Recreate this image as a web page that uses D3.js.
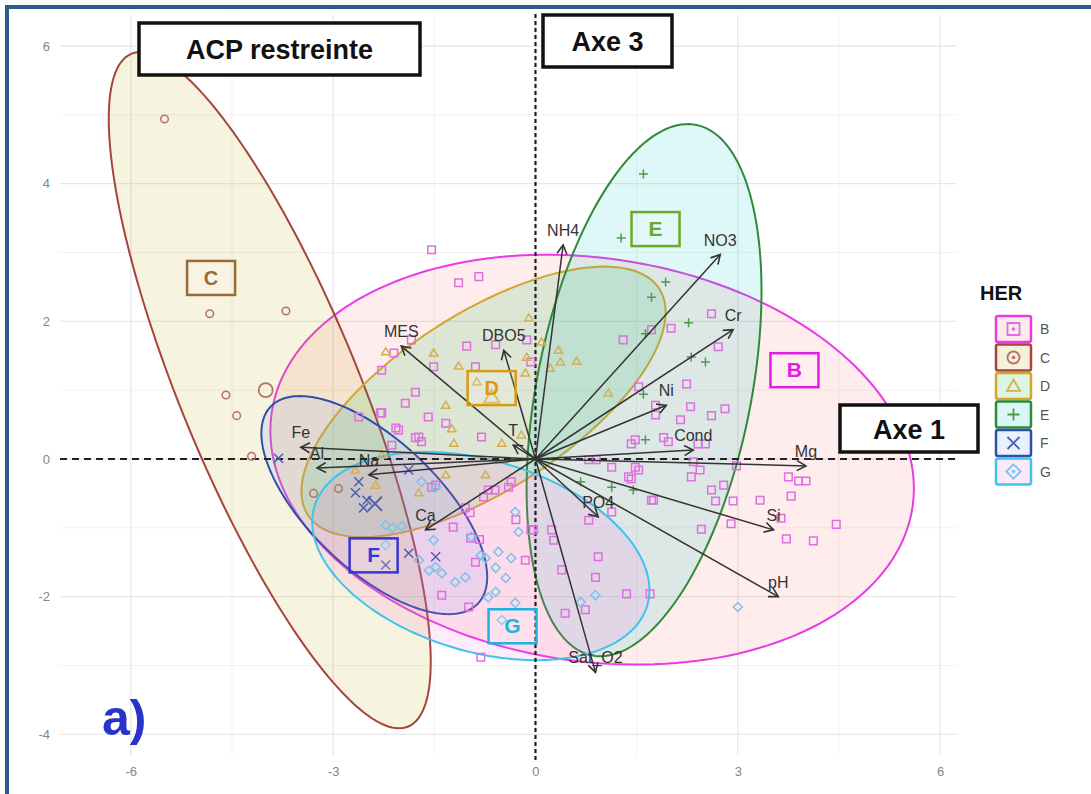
<!DOCTYPE html>
<html>
<head>
<meta charset="utf-8">
<script src="https://cdn.jsdelivr.net/npm/d3@7"></script>
<style>
  body { margin: 0; background: #fff; }
  text { font-family: "Liberation Sans", Arial, sans-serif; }
</style>
</head>
<body>
<div id="chart"></div>
<script>
// groups (HER)
const groups = ["B", "C", "D", "E", "F", "G"];

// individuals, [axe1, axe3]
const pointsB = [
  [-1.54, 3.04], [-0.84, 2.65], [-1.14, 2.56], [-2.10, 1.54], [-1.02, 1.64], [-0.59, 1.66],
  [-0.13, 1.73], [-0.07, 1.41], [-1.51, 1.34], [-0.89, 1.34], [-2.28, 1.29], [-1.78, 0.97],
  [-1.93, 0.81], [-2.28, 0.67], [-1.59, 0.61], [-1.33, 0.52], [-2.03, 0.42], [-1.78, 0.31],
  [-1.69, 0.25], [1.30, 1.73], [1.72, 1.88], [2.01, 1.90], [1.53, 1.05], [1.78, 0.78],
  [1.78, 0.64], [1.90, 0.31], [1.48, 0.28], [0.79, -0.01], [0.90, -0.01], [1.13, -0.12],
  [1.48, -0.12], [2.61, 2.11], [2.71, 1.63], [2.24, 1.09], [2.30, 0.76], [2.15, 0.57],
  [2.61, 0.63], [2.81, 0.73], [1.42, 0.22], [1.97, 0.25], [2.41, 0.22], [2.52, 0.22],
  [2.34, -0.04], [2.44, -0.16], [2.98, -0.10], [1.53, -0.16], [1.42, -0.29], [2.31, -0.26],
  [2.79, -0.38], [2.61, -0.45], [1.72, -0.60], [2.67, -0.61], [2.93, -0.61], [3.33, -0.60],
  [3.79, -0.54], [3.75, -0.26], [3.90, -0.32], [4.01, -0.32], [2.46, -1.02], [2.90, -0.94],
  [3.64, -0.86], [3.72, -1.16], [4.12, -1.19], [4.46, -0.95], [1.35, -1.96], [1.70, -1.96],
  [-1.48, -0.38], [-0.70, -0.45], [-0.60, -0.45], [-0.40, -0.41], [-0.77, -0.55], [-1.04, -0.71],
  [-0.03, -1.03], [0.24, -1.03], [0.27, -1.18], [-0.96, -1.15], [-0.89, -1.50], [-0.15, -1.47],
  [0.39, -1.61], [0.93, -1.42], [0.89, -1.72], [0.79, -0.89], [1.13, -0.77], [1.38, -0.26],
  [1.75, -0.60], [0.44, -2.24], [0.74, -2.19], [-1.39, -1.98], [-0.99, -2.15], [-0.81, -2.88],
  [-1.84, 1.73], [-2.62, 0.61], [-2.30, 0.67], [-2.07, 0.45], [-1.73, 0.32], [-0.80, 0.32],
  [-2.13, 0.20], [-1.54, -0.41], [-0.36, -0.33], [-0.97, -0.78], [-1.22, -0.99], [-0.83, -1.17],
  [-0.29, -0.88], [-0.07, -1.03]
];
const pointsC = [
  [-5.50, 4.94], [-4.83, 2.11], [-3.70, 2.15], [-4.59, 0.93], [-4.43, 0.63], [-4.21, 0.04],
  [-2.92, -0.43], [-3.29, -0.50]
];
const pointsD = [
  [-0.10, 2.05], [-1.51, 1.54], [-2.22, 1.56], [-1.14, 1.35], [-0.13, 1.48], [0.09, 1.70],
  [0.34, 1.58], [0.37, 1.41], [0.61, 1.42], [0.22, 1.32], [-0.15, 1.25], [-0.87, 1.12],
  [-1.33, 0.78], [1.08, 0.96], [-1.24, 0.44], [-1.21, 0.23], [-0.50, 0.23], [-0.21, 0.35],
  [-2.28, 0.06], [-2.37, -0.38], [-1.73, -0.49], [-0.74, -0.23], [-1.33, -0.23], [-2.67, -0.16]
];
const pointsE = [
  [1.60, 4.14], [1.27, 3.21], [1.93, 2.57], [1.72, 2.35], [2.27, 1.98], [1.63, 1.82],
  [2.52, 1.41], [2.31, 1.48], [1.60, 0.94], [1.63, 0.28], [1.45, -0.45], [0.67, -0.33],
  [1.13, -0.41]
];
const pointsF = [
  [-2.62, -0.33], [-2.67, -0.49], [-2.50, -0.60], [-2.55, -0.71], [-1.88, -1.37], [-1.48, -1.42],
  [-2.22, -1.54], [-3.81, 0.01], [-1.88, -0.16]
];
const pointsG = [
  [-1.69, -0.33], [-1.48, -0.41], [-2.22, -0.96], [-2.12, -1.00], [-1.98, -0.98], [-1.51, -1.18],
  [-2.22, -1.25], [-1.73, -1.47], [-1.48, -1.57], [-1.58, -1.62], [-1.39, -1.66], [-1.19, -1.79],
  [-1.04, -1.72], [-0.95, -1.13], [-0.81, -1.40], [-0.74, -1.44], [-0.55, -1.35], [-0.36, -1.44],
  [-0.59, -1.58], [-0.44, -1.73], [-0.25, -1.06], [-0.30, -0.77], [-0.70, -2.01], [-0.59, -1.93],
  [-0.30, -2.09], [-0.50, -2.34], [0.89, -1.98], [0.67, -2.08], [3.00, -2.15]
];
const groupPoints = [pointsB, pointsC, pointsD, pointsE, pointsF, pointsG];

// group means drawn as big symbols
const meanGroups = ["C", "D", "F"];
const meanX = [-4.0, -0.65, -2.38];
const meanY = [1.0, 0.9, -0.65];

// concentration ellipses: centre, semi-axes, angle (deg)
const ellipseCx = [0.84, -3.94, -0.77, 1.61, -2.39, -0.81];
const ellipseCy = [-0.01, 1.0, 0.83, 1.0, -0.67, -1.41];
const ellipseA = [4.8, 5.3, 3.08, 3.93, 2.1, 2.57];
const ellipseB = [2.93, 1.32, 1.29, 1.59, 0.95, 1.39];
const ellipseAngle = [-8, -67.2, 32, 78.6, -42.6, -16];

// group label positions
const groupLabelX = [3.84, -4.81, -0.65, 1.78, -2.40, -0.34];
const groupLabelY = [1.29, 2.63, 1.03, 3.34, -1.40, -2.43];

// variables
const varNames = ["NH4", "NO3", "Cr", "MES", "DBO5", "Ni", "Cond", "Mg", "Fe", "Al", "Na", "Ca", "T", "PO4", "Si", "pH", "Sat_O2"];
const varX = [0.41, 2.74, 2.93, -1.99, -0.47, 1.94, 2.34, 4.01, -3.48, -3.24, -2.47, -1.63, -0.33, 0.93, 3.53, 3.60, 0.89];
const varY = [3.11, 2.97, 1.88, 1.64, 1.58, 0.78, 0.13, -0.10, 0.17, -0.13, -0.23, -1.03, 0.20, -0.84, -1.03, -2.00, -3.10];

// axis ticks
const xMajor = [-6, -3, 0, 3, 6];
const xMinor = [-4.5, -1.5, 1.5, 4.5];
const yMajor = [-4, -2, 0, 2, 4, 6];
const yMinor = [-3, -1, 1, 3, 5];

const lineColor = ["#ea3ae8", "#a8443e", "#d4a52a", "#2f8a3a", "#2f4fa8", "#3cc3ee"];
const fillColor = ["#F8766D", "#B79F00", "#00BA38", "#00BFC4", "#619CFF", "#F564E3"];
const pointColor = ["#e06ee0", "#b9706a", "#d2b050", "#4c9a4c", "#4a5fb0", "#7cc3ea"];
const shapes = ["square", "circle", "triangle", "plus", "cross", "diamond"];
const labelStroke = ["#e020e0", "#9b6a3a", "#d99a10", "#6aaa2a", "#3535d0", "#1ab4e0"];
const labelSerif = [false, true, true, false, false, false];

const W = 1091, H = 794;
const svg = d3.select("#chart").append("svg").attr("width", W).attr("height", H);

const x = d3.scaleLinear().domain([-7.05, 6.25]).range([60, 957]);
const y = d3.scaleLinear().domain([-4.3, 6.45]).range([755, 15]);

function shapePath(shape, s) {
  if (shape === "square") return `M${-s},${-s}H${s}V${s}H${-s}Z`;
  if (shape === "circle") return `M${-s},0A${s},${s} 0 1,0 ${s},0A${s},${s} 0 1,0 ${-s},0Z`;
  if (shape === "triangle") return `M0,${-s * 1.05}L${s * 1.1},${s * 0.8}L${-s * 1.1},${s * 0.8}Z`;
  if (shape === "plus") return `M${-s},0H${s}M0,${-s}V${s}`;
  if (shape === "cross") return `M${-s},${-s}L${s},${s}M${-s},${s}L${s},${-s}`;
  return `M0,${-s * 1.2}L${s * 1.2},0L0,${s * 1.2}L${-s * 1.2},0Z`;
}

// grid
const grid = svg.append("g");
grid.selectAll(".xminor").data(xMinor).enter().append("line")
  .attr("x1", d => x(d)).attr("x2", d => x(d)).attr("y1", 15).attr("y2", 755)
  .attr("stroke", "#f2f2f2").attr("stroke-width", 1);
grid.selectAll(".yminor").data(yMinor).enter().append("line")
  .attr("y1", d => y(d)).attr("y2", d => y(d)).attr("x1", 60).attr("x2", 957)
  .attr("stroke", "#f2f2f2").attr("stroke-width", 1);
grid.selectAll(".xmajor").data(xMajor).enter().append("line")
  .attr("x1", d => x(d)).attr("x2", d => x(d)).attr("y1", 15).attr("y2", 755)
  .attr("stroke", "#e8e8e8").attr("stroke-width", 1.3);
grid.selectAll(".ymajor").data(yMajor).enter().append("line")
  .attr("y1", d => y(d)).attr("y2", d => y(d)).attr("x1", 60).attr("x2", 957)
  .attr("stroke", "#e8e8e8").attr("stroke-width", 1.3);

const xAxis = d3.axisBottom(x).tickValues(xMajor).tickSize(0).tickPadding(12).tickFormat(d => String(d));
const yAxis = d3.axisLeft(y).tickValues(yMajor).tickSize(0).tickPadding(10).tickFormat(d => String(d));
svg.append("g").attr("transform", "translate(0,755)").call(xAxis)
  .call(g => g.select(".domain").remove())
  .selectAll("text").attr("fill", "#858585").attr("font-size", 13);
svg.append("g").attr("transform", "translate(60,0)").call(yAxis)
  .call(g => g.select(".domain").remove())
  .selectAll("text").attr("fill", "#858585").attr("font-size", 13);

// ellipses
const ellipseLine = d3.line().x(d => x(d[0])).y(d => y(d[1])).curve(d3.curveLinearClosed);
const ell = svg.append("g");
groups.forEach(function (g, i) {
  const th = ellipseAngle[i] * Math.PI / 180;
  const pts = d3.range(0, 360, 2).map(function (deg) {
    const t = deg * Math.PI / 180;
    return [
      ellipseCx[i] + ellipseA[i] * Math.cos(t) * Math.cos(th) - ellipseB[i] * Math.sin(t) * Math.sin(th),
      ellipseCy[i] + ellipseA[i] * Math.cos(t) * Math.sin(th) + ellipseB[i] * Math.sin(t) * Math.cos(th)
    ];
  });
  ell.append("path").attr("d", ellipseLine(pts))
    .attr("fill", fillColor[i]).attr("fill-opacity", 0.13)
    .attr("stroke", lineColor[i]).attr("stroke-width", 2);
});

// reference dashed lines
svg.append("line").attr("x1", 60).attr("x2", 957).attr("y1", y(0)).attr("y2", y(0))
  .attr("stroke", "#222").attr("stroke-width", 2).attr("stroke-dasharray", "7,5");
svg.append("line").attr("x1", x(0)).attr("x2", x(0)).attr("y1", 14).attr("y2", 762)
  .attr("stroke", "#222").attr("stroke-width", 2.2).attr("stroke-dasharray", "4,3");

// individuals
const pts = svg.append("g");
groups.forEach(function (g, i) {
  pts.selectAll(".p" + g).data(groupPoints[i]).enter().append("path")
    .attr("transform", d => `translate(${x(d[0])},${y(d[1])})`)
    .attr("d", shapePath(shapes[i], i === 3 || i === 4 ? 4.5 : 3.8))
    .attr("fill", "none").attr("stroke", pointColor[i]).attr("stroke-width", 1.5);
});
meanGroups.forEach(function (g, k) {
  const i = groups.indexOf(g);
  pts.append("path")
    .attr("transform", `translate(${x(meanX[k])},${y(meanY[k])})`)
    .attr("d", shapePath(shapes[i], 7))
    .attr("fill", "none").attr("stroke", pointColor[i]).attr("stroke-width", 1.8);
});

// variable arrows
const defs = svg.append("defs");
defs.append("marker").attr("id", "arr").attr("viewBox", "-10 -6 12 12")
  .attr("refX", 0).attr("refY", 0).attr("markerWidth", 12).attr("markerHeight", 12)
  .attr("markerUnits", "userSpaceOnUse").attr("orient", "auto")
  .append("path").attr("d", "M-9,-5L0,0L-9,5").attr("fill", "none")
  .attr("stroke", "#333").attr("stroke-width", 1.6);

const arrows = svg.append("g");
varNames.forEach(function (v, i) {
  arrows.append("line")
    .attr("x1", x(0)).attr("y1", y(0)).attr("x2", x(varX[i])).attr("y2", y(varY[i]))
    .attr("stroke", "#333").attr("stroke-width", 1.5).attr("marker-end", "url(#arr)");
  arrows.append("text")
    .attr("x", x(varX[i])).attr("y", y(varY[i]) - 9)
    .attr("text-anchor", "middle").attr("font-size", 16).attr("fill", "#333")
    .text(v);
});

// group labels
const gl = svg.append("g");
groups.forEach(function (g, i) {
  const cx = x(groupLabelX[i]), cy = y(groupLabelY[i]);
  gl.append("rect").attr("x", cx - 24).attr("y", cy - 17).attr("width", 48).attr("height", 34)
    .attr("fill", "#fff").attr("fill-opacity", 0.15)
    .attr("stroke", labelStroke[i]).attr("stroke-width", 2.5);
  gl.append("text").attr("x", cx).attr("y", cy + 7)
    .attr("text-anchor", "middle").attr("font-weight", "bold")
    .attr("font-size", labelSerif[i] ? 20 : 21)
    .attr("font-family", labelSerif[i] ? "'Liberation Serif', serif" : null)
    .attr("fill", labelStroke[i]).text(g);
});

// annotation boxes
function boxText(bx, by, bw, bh, txt) {
  svg.append("rect").attr("x", bx).attr("y", by).attr("width", bw).attr("height", bh)
    .attr("fill", "#fff").attr("stroke", "#111").attr("stroke-width", 3.5);
  svg.append("text").attr("x", bx + bw / 2).attr("y", by + bh / 2 + 10)
    .attr("text-anchor", "middle").attr("font-size", 27).attr("font-weight", "bold")
    .attr("fill", "#111").text(txt);
}
boxText(139, 23, 281, 52, "ACP restreinte");
boxText(543, 15, 129, 52, "Axe 3");
boxText(840, 405, 138, 47, "Axe 1");

svg.append("text").attr("x", 102).attr("y", 735)
  .attr("font-size", 50).attr("font-weight", "bold").attr("fill", "#2733c9").text("a)");

// legend
const leg = svg.append("g");
leg.append("text").attr("x", 980).attr("y", 300).attr("font-size", 20)
  .attr("font-weight", "bold").attr("fill", "#111").text("HER");
groups.forEach(function (g, i) {
  const ky = 316 + i * 28.5;
  leg.append("rect").attr("x", 996).attr("y", ky).attr("width", 35).attr("height", 26).attr("rx", 2)
    .attr("fill", fillColor[i]).attr("fill-opacity", 0.14)
    .attr("stroke", lineColor[i]).attr("stroke-width", 2.5);
  leg.append("path").attr("transform", `translate(1013.5,${ky + 13})`)
    .attr("d", shapePath(shapes[i], 6))
    .attr("fill", "none").attr("stroke", pointColor[i]).attr("stroke-width", 1.8);
  if (i === 0 || i === 1 || i === 5) {
    leg.append("circle").attr("cx", 1013.5).attr("cy", ky + 13).attr("r", 1.8).attr("fill", pointColor[i]);
  }
  leg.append("text").attr("x", 1040).attr("y", ky + 18).attr("font-size", 14)
    .attr("fill", "#555").text(g);
});

// outer frame
svg.append("line").attr("x1", 7).attr("x2", 7).attr("y1", 5).attr("y2", H)
  .attr("stroke", "#2d5b8e").attr("stroke-width", 4);
svg.append("line").attr("x1", 5).attr("x2", W).attr("y1", 7).attr("y2", 7)
  .attr("stroke", "#2d5b8e").attr("stroke-width", 4);
</script>
</body>
</html>
